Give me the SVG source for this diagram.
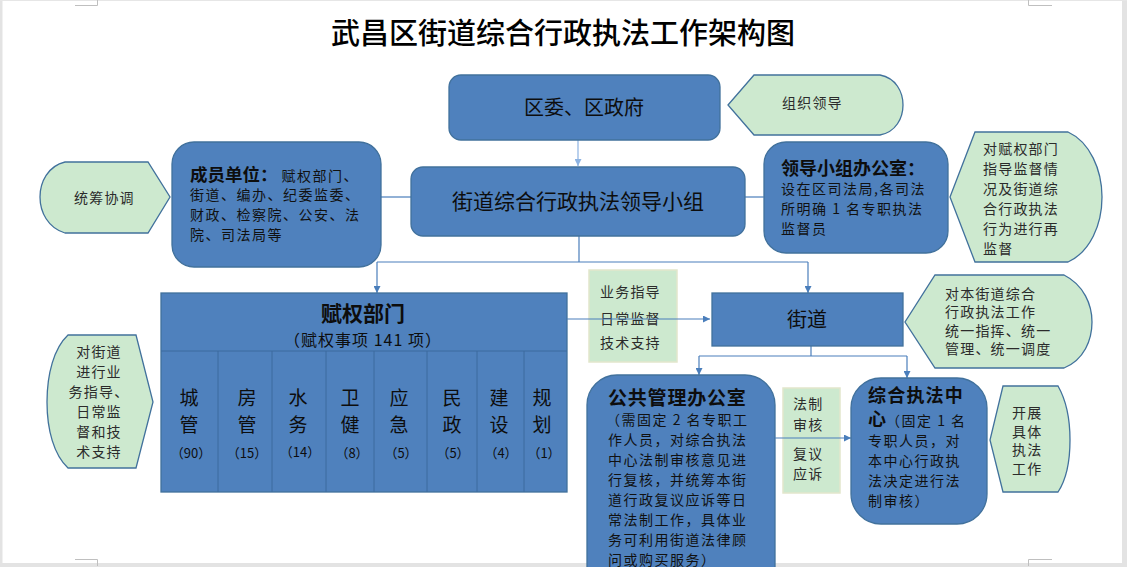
<svg xmlns="http://www.w3.org/2000/svg" width="1127" height="567" viewBox="0 0 1127 567">
<style>
text{font-family:"Noto Sans CJK SC","Noto Sans",sans-serif;}
.blue{fill:#4F81BD;stroke:#41719C;stroke-width:1.3;}
.green{fill:#CDE9CF;stroke:#41719C;stroke-width:1.3;}
.gbox{fill:#CDE9CF;stroke:#E2E6CC;stroke-width:1.5;}
.div{stroke:#3D6A9E;stroke-width:1;fill:none;}
.con{stroke:#4A7EBB;stroke-width:1.2;fill:none;}
.t{fill:#0d0d0d;}
.g{fill:#2b2b2b;font-size:14px;letter-spacing:1.2px;}
.b{font-weight:700;}
.body{font-size:14px;letter-spacing:1.5px;fill:#111;}
.mark{stroke:#bfbfbf;stroke-width:1;fill:none;}
</style>
<defs>
<marker id="arr" viewBox="0 0 10 10" refX="10" refY="5" markerWidth="7" markerHeight="7" markerUnits="userSpaceOnUse" orient="auto">
<path d="M0,0 L10,5 L0,10 Z" fill="#4A7EBB"/>
</marker>
<marker id="arrL" viewBox="0 0 10 10" refX="10" refY="5" markerWidth="7" markerHeight="7" markerUnits="userSpaceOnUse" orient="auto">
<path d="M0,0 L10,5 L0,10 Z" fill="#8DB3E2"/>
</marker>
</defs>
<rect x="0" y="0" width="1127" height="567" fill="#ffffff"/>
<g id="page">
<rect x="0" y="0" width="2.5" height="567" fill="#e3e3e3"/>
<rect x="1122" y="0" width="5" height="567" fill="#e3e3e3"/>
<rect x="0" y="563" width="1127" height="4" fill="#e3e3e3"/>
<line x1="0" y1="0.5" x2="1127" y2="0.5" stroke="#e6e6e6"/>
<path class="mark" d="M75,5.5 H97.5 V0 M1028.5,0 V5.5 H1052 M1028.5,566 V559.5 H1052 M75,559.5 H97.5 V566"/>
</g>
<text x="563" y="44" font-size="29" text-anchor="middle" fill="#000" font-weight="500">武昌区街道综合行政执法工作架构图</text>

<g id="connectors">
<line x1="578" y1="140" x2="578" y2="166" stroke="#8DB3E2" stroke-width="1.2" marker-end="url(#arrL)"/>
<line class="con" x1="381" y1="197" x2="411" y2="197"/>
<line class="con" x1="745" y1="197" x2="764" y2="197"/>
<polyline class="con" points="579,236 579,262"/>
<line class="con" x1="377" y1="262" x2="808" y2="262"/>
<line class="con" x1="377" y1="262" x2="377" y2="293" marker-end="url(#arr)"/>
<line class="con" x1="808" y1="262" x2="808" y2="293" marker-end="url(#arr)"/>
<line class="con" x1="811" y1="346" x2="811" y2="356"/>
<line class="con" x1="699" y1="356" x2="907" y2="356"/>
<line class="con" x1="699" y1="356" x2="699" y2="375" marker-end="url(#arr)"/>
<line class="con" x1="907" y1="356" x2="907" y2="378" marker-end="url(#arr)"/>
</g>

<g id="quwei">
<rect class="blue" x="449" y="75" width="271" height="65" rx="12"/>
<text class="t" x="584" y="115" font-size="20" text-anchor="middle">区委、区政府</text>
</g>
<g id="zuzhi">
<path class="green" d="M728,105 L754,75 L880,75 C896,78 903,92 903,105 C903,118 896,132 880,135 L754,135 Z"/>
<text class="g" x="782" y="108">组织领导</text>
</g>
<g id="lingdao">
<rect class="blue" x="411" y="167" width="334" height="69" rx="12"/>
<text class="t" x="578" y="209" font-size="21" text-anchor="middle">街道综合行政执法领导小组</text>
</g>
<g id="chengyuan">
<rect class="blue" x="172" y="142" width="209" height="125" rx="22"/>
<text class="t" x="190" y="181"><tspan class="b" font-size="17.5">成员单位：</tspan><tspan class="body" dx="4">赋权部门、</tspan><tspan class="body" x="190" y="200">街道、编办、纪委监委、</tspan><tspan class="body" x="190" y="220">财政、检察院、公安、法</tspan><tspan class="body" x="190" y="240">院、司法局等</tspan></text>
</g>
<g id="tongchou">
<path class="green" d="M65,162 L148,162 L170,197 L148,233 L65,233 C48,228 40,212 40,197 C40,182 48,166 65,162 Z"/>
<text class="g" x="74" y="202.5" font-size="15">统筹协调</text>
</g>
<g id="bangongshi">
<rect class="blue" x="764" y="142" width="184" height="111" rx="22"/>
<text class="t" x="781" y="174.5"><tspan class="b" font-size="18">领导小组办公室：</tspan><tspan class="body" x="781" y="194" letter-spacing="1.4">设在区司法局,各司法</tspan><tspan class="body" x="781" y="214" letter-spacing="1.4">所明确 1 名专职执法</tspan><tspan class="body" x="781" y="234" letter-spacing="1.4">监督员</tspan></text>
</g>
<g id="jiandu">
<path class="green" d="M975,132 L1068,132 C1090,142 1102,170 1102,197 C1102,225 1090,252 1068,262 L975,262 L950,197 Z"/>
<text class="g" letter-spacing="1.6"><tspan x="983" y="154">对赋权部门</tspan><tspan x="983" y="174">指导监督情</tspan><tspan x="983" y="194">况及街道综</tspan><tspan x="983" y="214">合行政执法</tspan><tspan x="983" y="234">行为进行再</tspan><tspan x="983" y="254">监督</tspan></text>
</g>
<g id="fuquan">
<rect class="blue" x="161" y="293" width="406" height="199"/>
<path class="div" d="M161,351 H567 M218,351 V492 M272,351 V492 M326,351 V492 M374,351 V492 M427,351 V492 M477,351 V492 M524,351 V492"/>
<text class="t" text-anchor="middle"><tspan class="b" x="363" y="320.5" font-size="21">赋权部门</tspan><tspan x="363" y="346" font-size="16" letter-spacing="1">（赋权事项 141 项）</tspan></text>
<g class="t" font-size="19" text-anchor="middle">
<text><tspan x="189" y="405">城</tspan><tspan x="189" y="432">管</tspan><tspan x="191" y="458" font-size="13">（90）</tspan></text>
<text><tspan x="247" y="405">房</tspan><tspan x="247" y="432">管</tspan><tspan x="247" y="458" font-size="13">（15）</tspan></text>
<text><tspan x="298" y="405">水</tspan><tspan x="298" y="432">务</tspan><tspan x="300" y="457" font-size="13">（14）</tspan></text>
<text><tspan x="350" y="405">卫</tspan><tspan x="350" y="432">健</tspan><tspan x="352" y="458" font-size="13">（8）</tspan></text>
<text><tspan x="399" y="405">应</tspan><tspan x="399" y="432">急</tspan><tspan x="401" y="458" font-size="13">（5）</tspan></text>
<text><tspan x="452" y="405">民</tspan><tspan x="452" y="432">政</tspan><tspan x="453" y="458" font-size="13">（5）</tspan></text>
<text><tspan x="499" y="405">建</tspan><tspan x="499" y="432">设</tspan><tspan x="501" y="458" font-size="13">（4）</tspan></text>
<text><tspan x="542" y="405">规</tspan><tspan x="542" y="432">划</tspan><tspan x="544" y="458" font-size="13">（1）</tspan></text>
</g>
</g>
<g id="duijiedao">
<path class="green" d="M68,335 L136,335 L153,402 L136,468 L68,468 C54,455 47,430 47,402 C47,374 54,348 68,335 Z"/>
<text class="g" text-anchor="middle" letter-spacing="1"><tspan x="99" y="357">对街道</tspan><tspan x="99" y="377">进行业</tspan><tspan x="99" y="397">务指导、</tspan><tspan x="99" y="417">日常监</tspan><tspan x="99" y="437">督和技</tspan><tspan x="99" y="457">术支持</tspan></text>
</g>
<g id="yewu">
<rect class="gbox" x="589" y="270" width="88" height="92"/>
<text class="g" letter-spacing="2"><tspan x="600" y="297">业务指导</tspan><tspan x="600" y="324">日常监督</tspan><tspan x="600" y="348">技术支持</tspan></text>
</g>
<line class="con" x1="567" y1="319" x2="710" y2="319" marker-end="url(#arr)"/>
<g id="jiedao">
<rect class="blue" x="712" y="293" width="191" height="53"/>
<text class="t" x="807" y="327" font-size="20" text-anchor="middle">街道</text>
</g>
<g id="tongyi">
<path class="green" d="M935,275 L1064,275 C1084,285 1092,305 1092,322 C1092,340 1084,360 1064,368 L935,368 L905,322 Z"/>
<text class="g" font-size="13" letter-spacing="2.2"><tspan x="945" y="298.5">对本街道综合</tspan><tspan x="945" y="317">行政执法工作</tspan><tspan x="945" y="335.5">统一指挥、统一</tspan><tspan x="945" y="354">管理、统一调度</tspan></text>
</g>
<g id="gonggong">
<rect class="blue" x="587" y="375" width="188" height="230" rx="30"/>
<text class="t"><tspan class="b" x="608" y="405" font-size="19" letter-spacing="0.8">公共管理办公室</tspan><tspan class="body" letter-spacing="1.7" x="606" y="425">（需固定 2 名专职工</tspan><tspan class="body" letter-spacing="1.7" x="608" y="445">作人员，对综合执法</tspan><tspan class="body" letter-spacing="1.7" x="608" y="465">中心法制审核意见进</tspan><tspan class="body" letter-spacing="1.7" x="608" y="485">行复核，并统筹本街</tspan><tspan class="body" letter-spacing="1.7" x="608" y="505">道行政复议应诉等日</tspan><tspan class="body" letter-spacing="1.7" x="608" y="525">常法制工作，具体业</tspan><tspan class="body" letter-spacing="1.7" x="608" y="545">务可利用街道法律顾</tspan><tspan class="body" letter-spacing="1.7" x="608" y="565">问或购买服务）</tspan></text>
</g>
<g id="fazhi">
<rect class="gbox" x="783" y="388" width="57" height="105"/>
<text class="g"><tspan x="793" y="408.5">法制</tspan><tspan x="793" y="429.5">审核</tspan><tspan x="793" y="458.5">复议</tspan><tspan x="793" y="478.5">应诉</tspan></text>
</g>
<line class="con" x1="775" y1="438" x2="851" y2="438" marker-end="url(#arr)"/>
<g id="zonghe">
<rect class="blue" x="851" y="378" width="136" height="146" rx="30"/>
<text class="t"><tspan class="b" x="868" y="402" font-size="18" letter-spacing="1.2">综合执法中</tspan><tspan class="b" x="868" y="425.5" font-size="18">心</tspan><tspan class="body" letter-spacing="1.3">（固定 1 名</tspan><tspan class="body" letter-spacing="1.3" x="868" y="446">专职人员，对</tspan><tspan class="body" letter-spacing="1.3" x="868" y="466">本中心行政执</tspan><tspan class="body" letter-spacing="1.3" x="868" y="486">法决定进行法</tspan><tspan class="body" letter-spacing="1.3" x="868" y="506">制审核）</tspan></text>
</g>
<g id="kaizhan">
<path class="green" d="M1003,386 L1058,386 C1066,400 1070,420 1070,440 C1070,460 1066,480 1058,492 L1003,492 L990,440 Z"/>
<text class="g" font-size="13" letter-spacing="2"><tspan x="1012" y="418">开展</tspan><tspan x="1012" y="436.5">具体</tspan><tspan x="1012" y="455">执法</tspan><tspan x="1012" y="473.5">工作</tspan></text>
</g>
</svg>
